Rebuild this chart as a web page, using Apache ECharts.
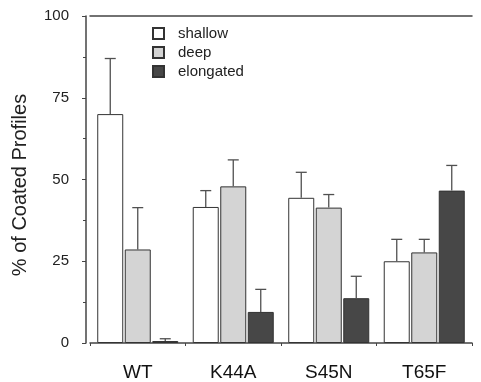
<!DOCTYPE html>
<html>
<head>
<meta charset="utf-8">
<script src="https://cdn.jsdelivr.net/npm/echarts@6/dist/echarts.min.js"></script>
<style>
  html, body { margin: 0; padding: 0; background: #fff; }
  #chart { width: 481px; height: 382px; }
</style>
</head>
<body>
<div id="chart"></div>
<script>
// values
const categories = ['WT', 'K44A', 'S45N', 'T65F'];
const seriesNames = ['shallow', 'deep', 'elongated'];
const shallow = [70.0, 41.6, 44.4, 25.0];
const deep = [28.6, 47.9, 41.4, 27.7];
const elongated = [0.6, 9.5, 13.7, 46.6];
const shallowErr = [87.0, 46.6, 52.2, 31.7];
const deepErr = [41.4, 56.0, 45.4, 31.7];
const elongatedErr = [1.3, 16.4, 20.4, 54.3];
const yTicks = [0, 25, 50, 75, 100];

const colors = ['#ffffff', '#d4d4d4', '#474747'];
const values = [shallow, deep, elongated];
const errTops = [shallowErr, deepErr, elongatedErr];

const BAR_W = 26;
const BAR_GAP = 1.5;
const FONT = 'Liberation Sans, Arial, sans-serif';

const container = document.getElementById('chart');
const myChart = echarts.init(container);

function errorSeries(idx) {
	return {
		type: 'custom',
		name: seriesNames[idx],
		z: 5,
		silent: true,
		data: categories.map((c, i) => [i, values[idx][i], errTops[idx][i]]),
		renderItem: (params, api) => {
			const base = api.coord([api.value(0), api.value(1)]);
			const top = api.coord([api.value(0), api.value(2)]);
			const x = base[0] + (idx - 1) * (BAR_W + BAR_GAP);
			const half = 5.5;
			const style = { stroke: '#505050', lineWidth: 1.3 };
			return {
				type: 'group',
				children: [
					{ type: 'line', shape: { x1: x, y1: base[1], x2: x, y2: top[1] }, style },
					{ type: 'line', shape: { x1: x - half, y1: top[1], x2: x + half, y2: top[1] }, style },
				],
			};
		},
	};
}

const option = {
	animation: false,
	grid: { left: 90, right: 9, top: 16, bottom: 39 },
	legend: {
		data: seriesNames,
		orient: 'vertical',
		left: 152,
		top: 26,
		padding: 0,
		itemWidth: 11,
		itemHeight: 11,
		itemGap: 4,
		icon: 'rect',
		textStyle: { color: '#222', fontSize: 15, lineHeight: 15, fontFamily: FONT, padding: [0, 0, 0, 9] },
	},
	xAxis: [
		{
			type: 'category',
			data: categories,
			axisLine: { lineStyle: { color: '#444', width: 1.5 } },
			axisTick: { show: true, length: 3, lineStyle: { color: '#444' } },
			axisLabel: { color: '#111', fontSize: 19, margin: 20, fontFamily: FONT },
		},
		{
			type: 'category',
			position: 'top',
			data: categories,
			axisLine: { show: true, lineStyle: { color: '#444', width: 1.5 } },
			axisTick: { show: false },
			axisLabel: { show: false },
		},
	],
	yAxis: {
		type: 'value',
		min: yTicks[0],
		max: yTicks[yTicks.length - 1],
		interval: 25,
		offset: 4,
		name: '% of Coated Profiles',
		nameLocation: 'middle',
		nameGap: 56,
		nameTextStyle: { color: '#222', fontSize: 20, fontFamily: FONT, padding: [0, 11, 0, 0] },
		axisLine: { show: true, lineStyle: { color: '#444', width: 1.5 } },
		axisTick: { show: true, length: 4, lineStyle: { color: '#444' } },
		minorTick: { show: true, splitNumber: 2, length: 3, lineStyle: { color: '#444' } },
		splitLine: { show: false },
		axisLabel: { color: '#222', fontSize: 15, margin: 17, fontFamily: FONT },
	},
	series: [
		...seriesNames.map((name, idx) => ({
			name,
			type: 'bar',
			data: values[idx],
			barWidth: BAR_W,
			barGap: (BAR_GAP / BAR_W * 100).toFixed(1) + '%',
			itemStyle: { color: colors[idx], borderColor: '#333', borderWidth: 1 },
		})),
		...seriesNames.map((name, idx) => errorSeries(idx)),
	],
};

myChart.setOption(option);
</script>
</body>
</html>
